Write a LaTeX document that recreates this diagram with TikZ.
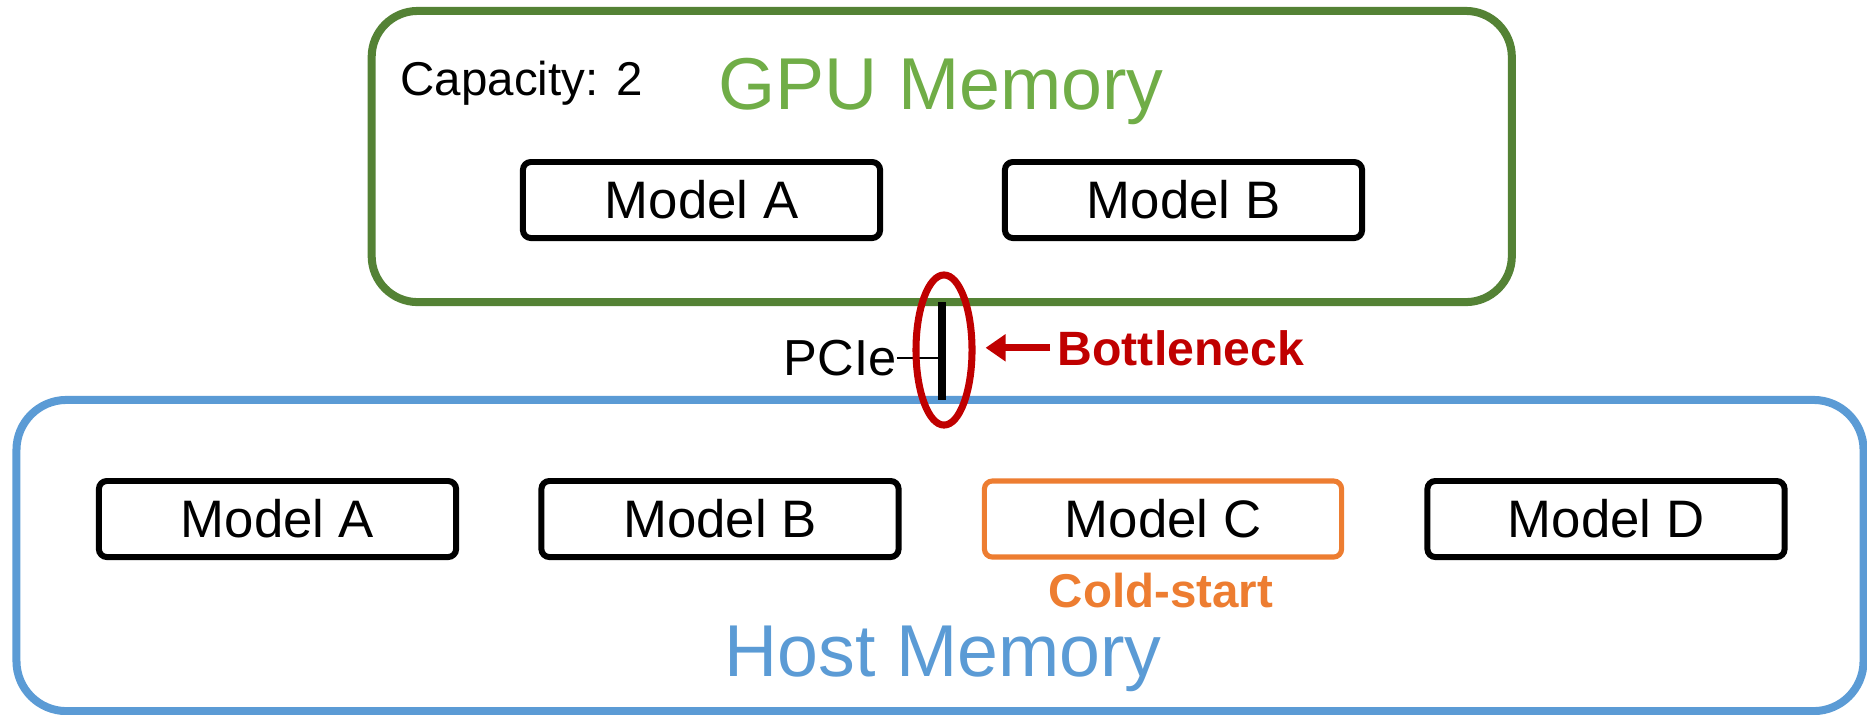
\documentclass[tikz,border=0pt]{standalone}
\usepackage{fontspec}
\setmainfont{Liberation Sans}
\usetikzlibrary{shapes.geometric,arrows.meta}
\definecolor{gpuline}{HTML}{548235}
\definecolor{gputext}{HTML}{70AD47}
\definecolor{hostblue}{HTML}{5B9BD5}
\definecolor{coldorange}{HTML}{ED7D31}
\definecolor{alertred}{HTML}{C00000}
\begin{document}
\begin{tikzpicture}[x=0.01cm,y=-0.01cm,
  membox/.style={draw, line width=2.28pt, inner sep=0pt, outer sep=0pt},
  modelbox/.style={draw, line width=1.7pt, rounded corners=0.08cm,
    minimum width=3.57cm, minimum height=0.76cm, inner sep=0pt, outer sep=0pt,
    font=\fontsize{15}{18}\selectfont},
  title/.style={inner sep=0pt, anchor=base, font=\fontsize{20.9}{24}\selectfont},
  label/.style={inner sep=0pt, font=\fontsize{13.5}{16}\selectfont},
  redarrow/.style={draw=alertred, line width=2pt,
    -{Triangle[length=0.2cm,width=0.26cm]}}]
\useasboundingbox (0,0) rectangle (1867,714);

% memory regions
\node[membox, draw=gpuline, rounded corners=0.46cm,
  minimum width=11.395cm, minimum height=2.91cm] (gpu) at (941.75,156.5) {};
\node[membox, draw=hostblue, rounded corners=0.5cm,
  minimum width=18.46cm, minimum height=3.11cm] (host) at (940,555.5) {};

% titles
\node[title, text=gputext] (gputitle) at (941,109) {GPU Memory};
\node[title, text=hostblue] (hosttitle) at (943,676) {Host Memory};
\node[label, anchor=base west] (cap) at (400,95) {Capacity: 2};

% models resident on the GPU
\node[modelbox] (ga) at (701.5,200) {Model A};
\node[modelbox] (gb) at (1183.5,200) {Model B};

% models in host memory
\node[modelbox] (ha) at (277.5,519) {Model A};
\node[modelbox] (hb) at (720,519) {Model B};
\node[modelbox, draw=coldorange, line width=1.45pt] (hc) at (1163,519) {Model C};
\node[modelbox] (hd) at (1606,519) {Model D};
\node[label, anchor=base, text=coldorange, font=\fontsize{13.5}{16}\selectfont\bfseries]
  (cold) at (1161,607) {Cold-start};

% PCIe link
\draw[line width=2.28pt] (gpu.south) -- (gpu.south |- host.north);
\node[inner sep=0pt, anchor=base east, font=\fontsize{14.4}{17}\selectfont]
  (pcie) at (897,375) {PCIe};
\draw[line width=0.6pt] (pcie.east) -- (pcie.east -| gpu.south);

% bottleneck marker
\node[draw=alertred, line width=2pt, ellipse, inner sep=0pt,
  minimum width=0.56cm, minimum height=1.5cm] (neck) at (944,350) {};
\node[inner sep=0pt, anchor=base west, text=alertred,
  font=\fontsize{13.7}{16}\selectfont\bfseries] (bn) at (1057,365) {Bottleneck};
\draw[redarrow, shorten <=0.07cm, shorten >=0.1cm]
  (bn.west) -- (bn.west -| neck.east);
\end{tikzpicture}
\end{document}
